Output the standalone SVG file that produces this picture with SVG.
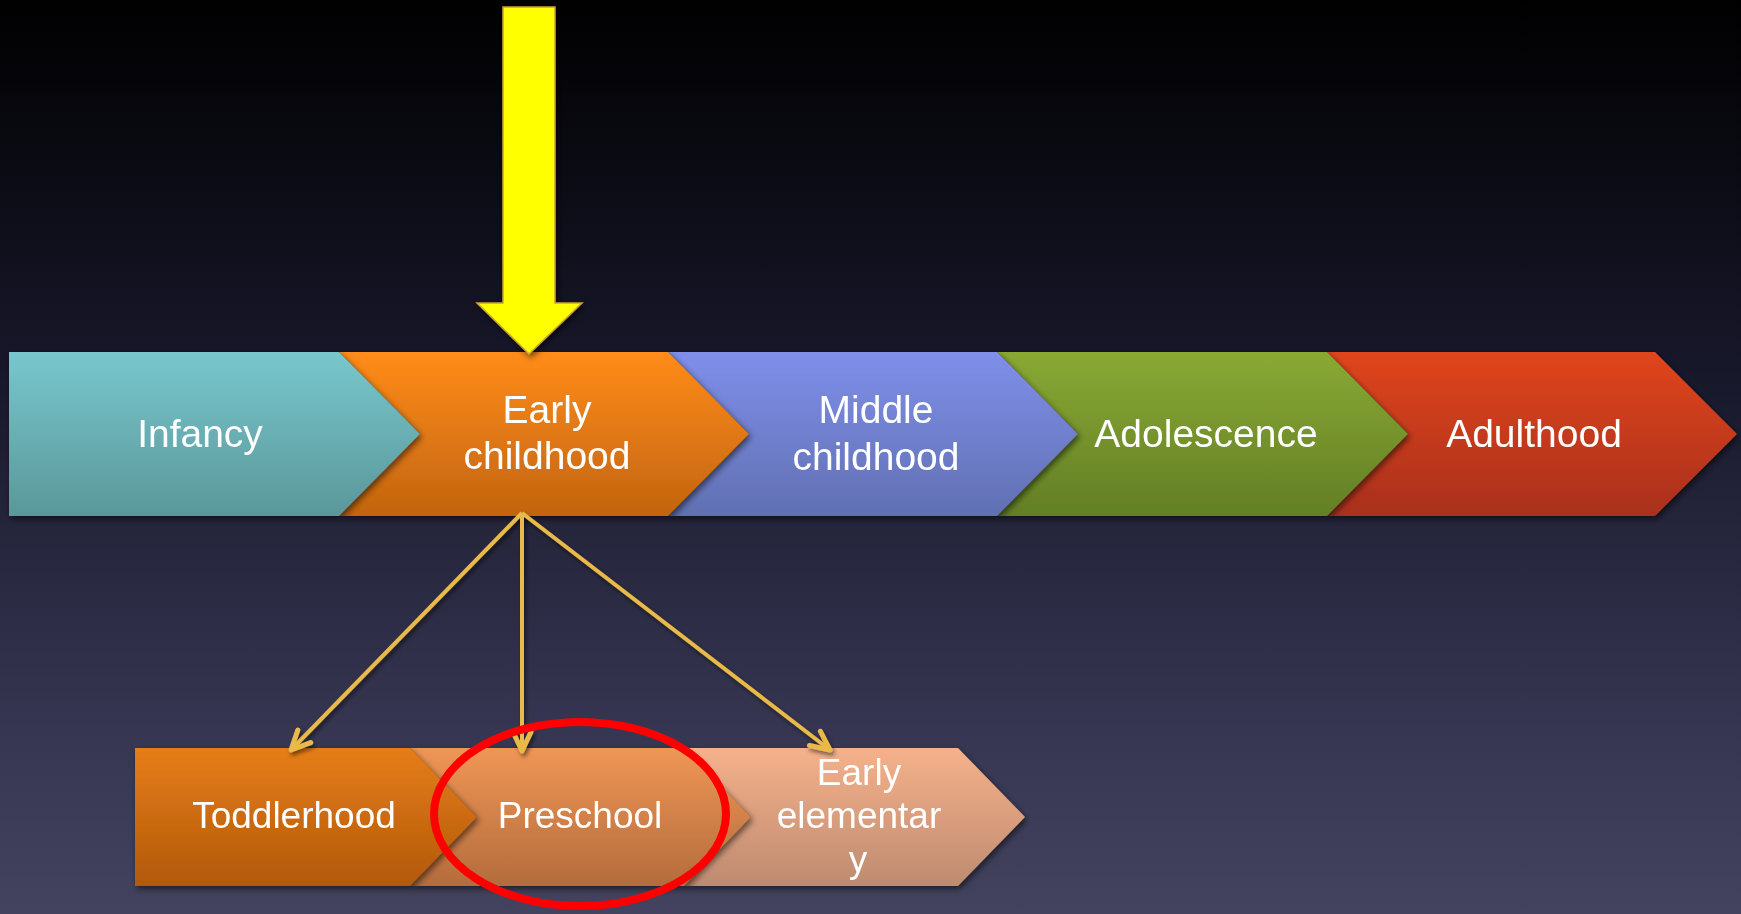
<svg xmlns="http://www.w3.org/2000/svg" width="1741" height="914" viewBox="0 0 1741 914">
<defs>
<linearGradient id="bg" x1="0" y1="0" x2="0" y2="1">
<stop offset="0" stop-color="#000000"/>
<stop offset="0.4" stop-color="#17172A"/>
<stop offset="0.8" stop-color="#363652"/>
<stop offset="1" stop-color="#43435F"/>
</linearGradient>
<linearGradient id="gInf" x1="0" y1="0" x2="0" y2="1"><stop offset="0" stop-color="#78C7CD"/><stop offset="1" stop-color="#5A9799"/></linearGradient>
<linearGradient id="gEar" x1="0" y1="0" x2="0" y2="1"><stop offset="0" stop-color="#FF8C1A"/><stop offset="1" stop-color="#C2640F"/></linearGradient>
<linearGradient id="gMid" x1="0" y1="0" x2="0" y2="1"><stop offset="0" stop-color="#7F8FEA"/><stop offset="1" stop-color="#6170B2"/></linearGradient>
<linearGradient id="gAdo" x1="0" y1="0" x2="0" y2="1"><stop offset="0" stop-color="#89A933"/><stop offset="1" stop-color="#637F26"/></linearGradient>
<linearGradient id="gAdu" x1="0" y1="0" x2="0" y2="1"><stop offset="0" stop-color="#E1451F"/><stop offset="1" stop-color="#A9301A"/></linearGradient>
<linearGradient id="gTod" x1="0" y1="0" x2="0" y2="1"><stop offset="0" stop-color="#E67D15"/><stop offset="1" stop-color="#B2590E"/></linearGradient>
<linearGradient id="gPre" x1="0" y1="0" x2="0" y2="1"><stop offset="0" stop-color="#EF9656"/><stop offset="1" stop-color="#B46C3C"/></linearGradient>
<linearGradient id="gEle" x1="0" y1="0" x2="0" y2="1"><stop offset="0" stop-color="#F5B18B"/><stop offset="1" stop-color="#BE8B70"/></linearGradient>
<filter id="sh" x="-10%" y="-10%" width="130%" height="140%">
<feDropShadow dx="2" dy="3" stdDeviation="3" flood-color="#000000" flood-opacity="0.55"/>
</filter>
<filter id="lsh" x="-20%" y="-20%" width="140%" height="140%">
<feDropShadow dx="2" dy="3" stdDeviation="2" flood-color="#000000" flood-opacity="0.5"/>
</filter>
<marker id="vh" markerUnits="userSpaceOnUse" viewBox="-26 -15 30 30" markerWidth="30" markerHeight="30" refX="0" refY="0" orient="auto">
<path d="M-19,-9 L0,0 L-19,9" fill="none" stroke="#E9B949" stroke-width="5" stroke-linecap="round" stroke-linejoin="round"/>
</marker>
</defs>
<style>
.lbl{font-family:"Liberation Sans",Arial,sans-serif;font-size:39px;fill:#FFFFFF;text-anchor:middle}
.sm{font-size:37px}
.conn{stroke:#E9B949;stroke-width:4;fill:none}
</style>
<rect x="0" y="0" width="1741" height="914" fill="url(#bg)"/>

<g id="adulthood" filter="url(#sh)">
<path d="M1327,352 H1655 L1737,434 L1655,516 H1327 L1408,434 Z" fill="url(#gAdu)"/>
<text class="lbl" x="1534" y="447">Adulthood</text>
</g>
<g id="adolescence" filter="url(#sh)">
<path d="M997,352 H1327 L1408,434 L1327,516 H997 L1078,434 Z" fill="url(#gAdo)"/>
<text class="lbl" x="1206" y="447">Adolescence</text>
</g>
<g id="middle-childhood" filter="url(#sh)">
<path d="M668,352 H997 L1078,434 L997,516 H668 L749,434 Z" fill="url(#gMid)"/>
<text class="lbl" x="876" y="423">Middle</text>
<text class="lbl" x="876" y="470">childhood</text>
</g>
<g id="early-childhood" filter="url(#sh)">
<path d="M339,352 H668 L749,434 L668,516 H339 L420,434 Z" fill="url(#gEar)"/>
<text class="lbl" x="547" y="423">Early</text>
<text class="lbl" x="547" y="469">childhood</text>
</g>
<g id="infancy" filter="url(#sh)">
<path d="M9,352 H339 L420,434 L339,516 H9 Z" fill="url(#gInf)"/>
<text class="lbl" x="200" y="447">Infancy</text>
</g>

<g id="early-elementary" filter="url(#sh)">
<path d="M684,748 H958 L1025,817 L958,886 H684 L751,817 Z" fill="url(#gEle)"/>
<text class="lbl sm" x="859" y="785">Early</text>
<text class="lbl sm" x="859" y="828">elementar</text>
<text class="lbl sm" x="858" y="872">y</text>
</g>
<g id="preschool" filter="url(#sh)">
<path d="M410,748 H684 L751,817 L684,886 H410 L477,817 Z" fill="url(#gPre)"/>
<text class="lbl sm" x="580" y="828">Preschool</text>
</g>
<g id="toddlerhood" filter="url(#sh)">
<path d="M135,748 H410 L477,817 L410,886 H135 Z" fill="url(#gTod)"/>
<text class="lbl sm" x="294" y="828">Toddlerhood</text>
</g>

<g id="yellow-arrow" filter="url(#sh)">
<path d="M503,7 H555 V303 H582 L529,354 L477,303 H503 Z" fill="#FFFF00" stroke="#C9A13A" stroke-width="1.5"/>
</g>

<g id="connectors" filter="url(#lsh)">
<line class="conn" x1="522" y1="513" x2="291" y2="750" marker-end="url(#vh)"/>
<line class="conn" x1="522" y1="513" x2="522" y2="751" marker-end="url(#vh)"/>
<line class="conn" x1="522" y1="513" x2="830" y2="750" marker-end="url(#vh)"/>
</g>

<g id="highlight-ellipse">
<ellipse cx="580" cy="814" rx="146" ry="92" fill="none" stroke="#FF0000" stroke-width="8"/>
</g>
</svg>
